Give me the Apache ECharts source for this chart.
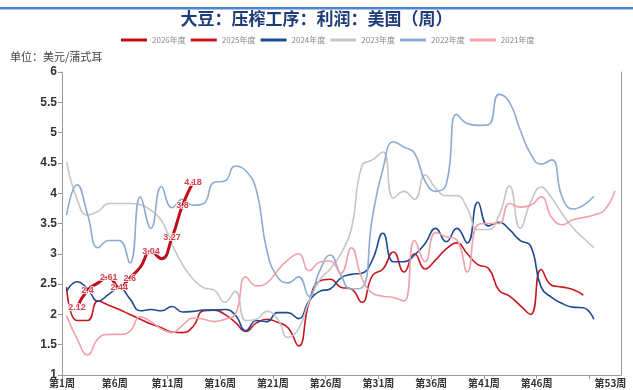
<!DOCTYPE html>
<html>
<head>
<meta charset="utf-8">
<script src="https://cdn.jsdelivr.net/npm/echarts@6/dist/echarts.min.js"></script>
<style>
  html, body { margin: 0; padding: 0; background: #fff; }
  #chart { width: 633px; height: 390px; }
</style>
</head>
<body>
<div id="chart"></div>
<script>
// Weekly US soybean crush margin, USD per bushel, one array per season (index 0 = week 1)
const seasonNames = ['2026年度', '2025年度', '2024年度', '2023年度', '2022年度', '2021年度'];

const margin2026 = [null, 2.12, 2.4, 2.52, 2.61, 2.44, 2.6, 2.78, 3.04, 2.92, 3.27, 3.8, 4.18];

const margin2025 = [2.45, 1.9, 1.9, 2.22, 2.15, 2.08, 2.0, 1.92, 1.84, 1.78,
  1.71, 1.70, 1.8, 2.06, 2.07, 2.0, 1.87, 1.72, 1.86, 1.92,
  1.87, 1.78, 1.48, 2.2, 2.55, 2.58, 2.45, 2.42, 2.2, 2.64,
  2.75, 3.03, 2.7, 3.0, 2.75, 2.9, 3.08, 3.18, 3.0, 2.82,
  2.76, 2.4, 2.3, 2.15, 2.0, 2.74, 2.48, 2.45, 2.41, 2.32];

const margin2024 = [2.38, 2.54, 2.42, 2.22, 2.33, 2.44, 2.26, 2.06, 2.08, 2.06,
  2.13, 2.04, 2.05, 2.07, 2.07, 2.08, 1.99, 1.73, 1.90, 1.88,
  2.03, 2.03, 1.93, 2.22, 2.38, 2.42, 2.6, 2.66, 2.68, 2.9,
  3.34, 2.87, 2.87, 2.98, 3.17, 3.42, 3.2, 3.42, 3.18, 3.85,
  3.46, 3.52, 3.4, 3.22, 3.13, 2.45, 2.28, 2.18, 2.12, 2.11, 1.92];

const margin2023 = [4.52, 3.9, 3.64, 3.7, 3.83, 3.83, 3.83, 3.81, 3.72, 3.55,
  3.16, 2.82, 2.58, 2.44, 2.4, 2.2, 2.38, 1.9, 1.92, 2.05,
  1.93, 1.62, 1.76, 2.22, 2.57, 2.75, 3.0, 3.4, 4.45, 4.55,
  4.68, 3.92, 4.03, 3.9, 4.3, 4.08, 3.96, 3.96, 3.75, 3.4,
  3.4, 3.63, 4.12, 3.42, 3.85, 4.1, 3.92, 3.66, 3.43, 3.26, 3.1];

const margin2022 = [3.64, 4.14, 3.65, 3.1, 3.22, 3.22, 2.85, 3.94, 3.42, 4.11,
  3.76, 3.9, 3.8, 3.83, 4.18, 4.2, 4.45, 4.37, 4.05, 3.05,
  2.62, 2.52, 2.62, 2.3, 2.72, 2.98, 2.65, 2.42, 2.44, 3.6,
  4.4, 4.85, 4.76, 4.66, 4.2, 4.03, 4.15, 5.3, 5.15, 5.12,
  5.13, 5.63, 5.5, 5.05, 4.65, 4.48, 4.55, 3.93, 3.74, 3.8, 3.95];

const margin2021 = [1.98, 1.6, 1.33, 1.6, 1.67, 1.67, 1.72, 1.96, 1.88, 1.76,
  1.7, 1.82, 1.94, 1.92, 1.88, 1.92, 2.0, 2.62, 2.47, 2.52,
  2.72, 2.9, 3.0, 2.72, 2.86, 2.88, 2.68, 3.1, 2.6, 2.35,
  2.3, 2.28, 2.22, 3.22, 2.87, 3.35, 3.28, 3.23, 2.7, 3.48,
  3.5, 3.5, 3.83, 3.77, 3.8, 3.94, 3.6, 3.48, 3.56, 3.6,
  3.64, 3.72, 4.04];

// Weeks carrying a value label on the current season
const labeledWeeks2026 = [2, 3, 5, 6, 7, 9, 11, 12, 13];

// Axis ticks and labels (week numbers)
const weekLabelValues = [1, 6, 11, 16, 21, 26, 31, 36, 41, 46, 53];
const weekTickValues = [1, 6, 11, 16, 21, 26, 31, 36, 41, 46, 51];

// Observations are dated a few days into each week
const WEEK_OFFSET = 3 / 7;

const seasonColors = ['#bf0d1b', '#c8161e', '#1d4a93', '#c6c6c6', '#8eaad2', '#f2a1aa'];
const seasonValues = [margin2026, margin2025, margin2024, margin2023, margin2022, margin2021];

function toPoints(values) {
  return values.map((v, i) => [i + 1 + WEEK_OFFSET, v]);
}

const chart = echarts.init(document.getElementById('chart'), null, { renderer: 'canvas' });

const series = seasonValues.map((values, s) => {
  const base = {
    name: seasonNames[s],
    type: 'line',
    smooth: true,
    showSymbol: false,
    symbol: 'none',
    color: seasonColors[s],
    lineStyle: { width: 1.6, color: seasonColors[s] },
    emphasis: { disabled: true },
    z: 2,
    data: toPoints(values)
  };
  if (s === 0) {
    base.symbol = 'circle';
    base.showSymbol = true;
    base.symbolSize = 1;
    base.lineStyle = { width: 3, color: seasonColors[s] };
    base.z = 10;
    base.data = values.map((v, i) => ({
      value: [i + 1 + WEEK_OFFSET, v],
      label: { show: labeledWeeks2026.includes(i + 1) }
    }));
    base.label = {
      position: 'inside',
      fontSize: 9,
      fontWeight: 'bold',
      color: '#d9404e',
      textBorderColor: '#ffffff',
      textBorderWidth: 1.5,
      formatter: p => p.value[1]
    };
  }
  return base;
});

chart.setOption({
  animation: false,
  backgroundColor: '#ffffff',
  title: {
    text: '大豆：压榨工序：利润：美国（周）',
    left: 'center',
    top: 5,
    textStyle: {
      fontFamily: 'Noto Sans CJK SC',
      fontSize: 17,
      fontWeight: 'bold',
      color: '#1f3c78'
    }
  },
  legend: {
    data: seasonNames,
    left: 121,
    top: 36,
    padding: 0,
    icon: 'rect',
    itemWidth: 26,
    itemHeight: 3,
    itemGap: 5,
    selectedMode: false,
    textStyle: { fontSize: 8, color: '#888', fontFamily: 'Noto Sans CJK SC' }
  },
  graphic: [
    {
      type: 'rect',
      left: 0, top: 7,
      shape: { width: 633, height: 2.5 },
      style: { fill: '#4a88cf' }
    },
    {
      type: 'text',
      left: 10, top: 51,
      style: {
        text: '单位：美元/蒲式耳',
        fontSize: 11,
        fill: '#444',
        fontFamily: 'Noto Sans CJK SC'
      }
    }
  ],
  grid: { left: 62, right: 12, top: 72, bottom: 15, containLabel: false },
  xAxis: {
    type: 'value',
    min: 1,
    max: 54,
    axisLine: { show: true, lineStyle: { color: '#9a9a9a', width: 1 } },
    axisTick: { show: true, length: 4, lineStyle: { color: '#9a9a9a' }, customValues: weekTickValues },
    splitLine: { show: false },
    axisLabel: {
      customValues: weekLabelValues,
      formatter: v => '第' + v + '周',
      fontSize: 10,
      fontWeight: 'bold',
      color: '#333',
      margin: 3,
      fontFamily: 'Noto Sans CJK SC'
    }
  },
  yAxis: [
    {
      type: 'value',
      min: 1,
      max: 6,
      interval: 0.5,
      axisLine: { show: true, lineStyle: { color: '#9a9a9a', width: 1 } },
      axisTick: { show: true, length: 4, lineStyle: { color: '#9a9a9a' } },
      splitLine: { show: false },
      axisLabel: {
        fontSize: 12,
        fontWeight: 'bold',
        color: '#333',
        margin: 5,
        fontFamily: 'Liberation Sans'
      }
    },
    {
      type: 'value',
      position: 'right',
      min: 1,
      max: 6,
      axisLine: { show: true, lineStyle: { color: '#9a9a9a', width: 1 } },
      axisTick: { show: false },
      axisLabel: { show: false },
      splitLine: { show: false }
    }
  ],
  series: series
});
</script>
</body>
</html>
